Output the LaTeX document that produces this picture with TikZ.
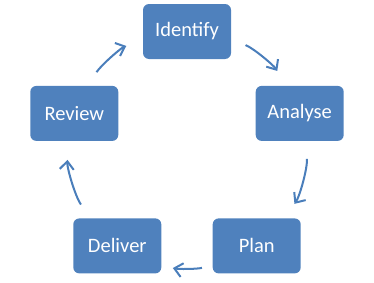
\documentclass[tikz,border=0pt]{standalone}
\usepackage{fontspec}
\setmainfont{Carlito}
\usetikzlibrary{arrows.meta}
\definecolor{accent}{HTML}{4F81BD}
\definecolor{arrowblue}{HTML}{4A7EBB}
\begin{document}
\begin{tikzpicture}[x=1pt,y=1pt,
  stepbox/.style={rectangle, rounded corners=6pt, fill=accent, minimum width=88pt, minimum height=55pt, inner sep=0pt, outer sep=0pt, text=white, font=\fontsize{20.5}{24}\selectfont},
  cyc/.style={draw=arrowblue, line width=2pt, -{Straight Barb[length=8pt,width=14pt,line width=2pt]}, looseness=0.86}]
\useasboundingbox (0,0) rectangle (374,282);
\node[stepbox] (id) at (187,250.5) {Identify};
\node[stepbox] (an) at (299.7,168.6) {Analyse};
\node[stepbox] (pl) at (256.7,36.1) {Plan};
\node[stepbox] (de) at (117.3,36.1) {Deliver};
\node[stepbox] (rv) at (74.3,168.6) {Review};
\draw[cyc, shorten <=15.7pt, shorten >=17.8pt] (id.-10.9) to[out=-21.8, in=122.7] (an.115.3);
\draw[cyc, shorten <=18pt, shorten >=17.8pt] (an.-78.9) to[out=-85.6, in=54.8] (pl.45.4);
\draw[cyc, shorten <=11pt, shorten >=11.8pt] (pl.204.2) to[out=-167.5, in=-12.5] (de.-24.2);
\draw[cyc, shorten <=17pt, shorten >=19pt] (de.134.6) to[out=125.2, in=-94.4] (rv.-101.1);
\draw[cyc, shorten <=16.3pt, shorten >=18pt] (rv.64.7) to[out=57.3, in=201.8] (id.190.9);
\end{tikzpicture}
\end{document}
